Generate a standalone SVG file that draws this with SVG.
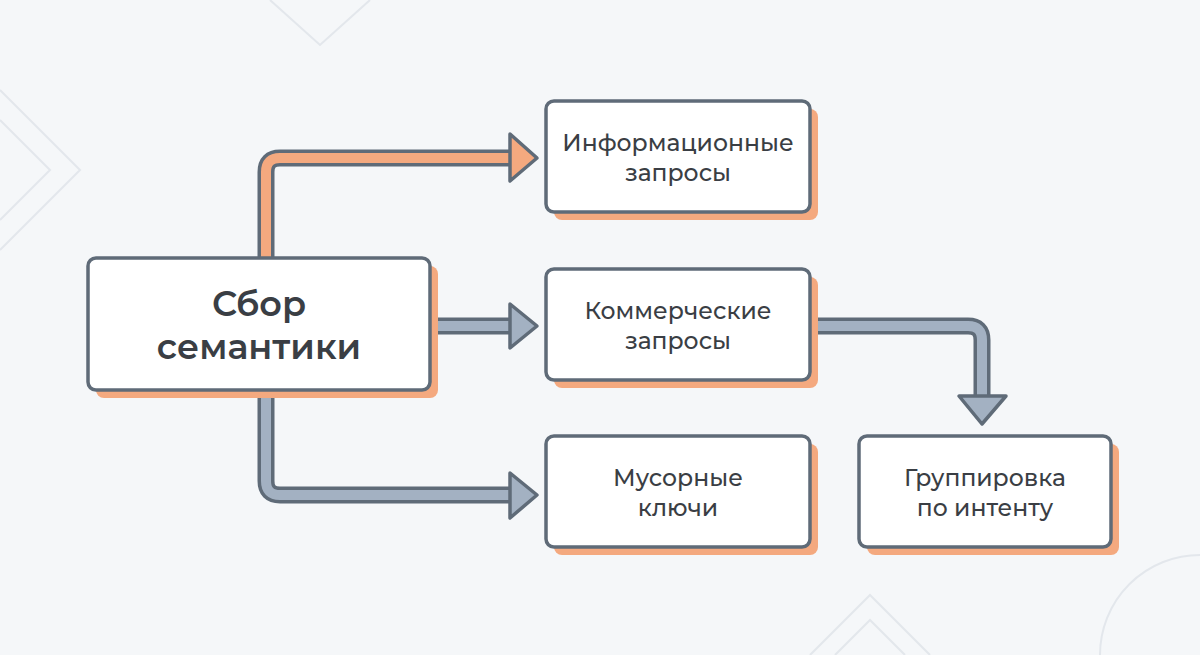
<svg xmlns="http://www.w3.org/2000/svg" width="1200" height="655" viewBox="0 0 1200 655">
<style>
.box{fill:#fff;stroke:#5f6b78;stroke-width:3.5}
.sh{fill:#f4a97f}
.t{font-family:Montserrat,"Noto Sans","Open Sans",sans-serif;font-weight:600;fill:#3a3e44;text-anchor:middle}
.s{font-size:23.5px;font-weight:500}
.so{fill:none;stroke:#5f6b78;stroke-width:17;stroke-linejoin:round}
.fo{fill:none;stroke:#f4a97f;stroke-width:10;stroke-linejoin:round}
.fg{fill:none;stroke:#a3b1c2;stroke-width:10;stroke-linejoin:round}
.ho{fill:#f4a97f;stroke:#5f6b78;stroke-width:3.5;stroke-linejoin:round}
.hg{fill:#a3b1c2;stroke:#5f6b78;stroke-width:3.5;stroke-linejoin:round}
.bg{fill:none;stroke:#e3e7ec;stroke-width:2}
</style>
<rect width="1200" height="655" fill="#f5f7f9"/>
<g id="background">
<path class="bg" d="M270 0 L320 45 L370 0"/>
<path class="bg" d="M0 90 L80 170 L0 250"/>
<path class="bg" d="M0 120 L50 170 L0 220"/>
<path class="bg" d="M810 655 L870 595 L930 655 M835 655 L870 620 L905 655"/>
<circle class="bg" cx="1200" cy="655" r="100"/>
</g>
<g id="connectors">
<path class="so" d="M266 258 V172 Q266 158 280 158 H512"/>
<path class="fo" d="M266 258 V172 Q266 158 280 158 H514"/>
<polygon class="ho" points="510,134 537,158 510,181"/>
<path class="so" d="M430 326 H512"/>
<path class="fg" d="M430 326 H514"/>
<polygon class="hg" points="510,304 537,326 510,348"/>
<path class="so" d="M266 390 V481 Q266 495 280 495 H512"/>
<path class="fg" d="M266 390 V481 Q266 495 280 495 H514"/>
<polygon class="hg" points="510,473 537,495 510,518"/>
<path class="so" d="M810 326 H968 Q982 326 982 340 V397"/>
<path class="fg" d="M810 326 H968 Q982 326 982 340 V399"/>
<polygon class="hg" points="959,396 1006,396 982,424"/>
</g>
<g id="n1">
<rect class="sh" x="96" y="266" width="342" height="132" rx="8"/>
<rect class="box" x="88" y="258" width="342" height="132" rx="8"/>
<text class="t" x="259" y="316" font-size="35">Сбор</text>
<text class="t" x="259" y="359" font-size="35">семантики</text>
</g>
<g id="n2">
<rect class="sh" x="554" y="109" width="264" height="111" rx="8"/>
<rect class="box" x="546" y="101" width="264" height="111" rx="8"/>
<text class="t s" x="678" y="151">Информационные</text>
<text class="t s" x="678" y="181">запросы</text>
</g>
<g id="n3">
<rect class="sh" x="554" y="277" width="264" height="111" rx="8"/>
<rect class="box" x="546" y="269" width="264" height="111" rx="8"/>
<text class="t s" x="678" y="319">Коммерческие</text>
<text class="t s" x="678" y="349">запросы</text>
</g>
<g id="n4">
<rect class="sh" x="554" y="444" width="264" height="111" rx="8"/>
<rect class="box" x="546" y="436" width="264" height="111" rx="8"/>
<text class="t s" x="678" y="486">Мусорные</text>
<text class="t s" x="678" y="516">ключи</text>
</g>
<g id="n5">
<rect class="sh" x="867" y="444" width="252" height="111" rx="8"/>
<rect class="box" x="859" y="436" width="252" height="111" rx="8"/>
<text class="t s" x="985" y="486">Группировка</text>
<text class="t s" x="985" y="516">по интенту</text>
</g>
</svg>
